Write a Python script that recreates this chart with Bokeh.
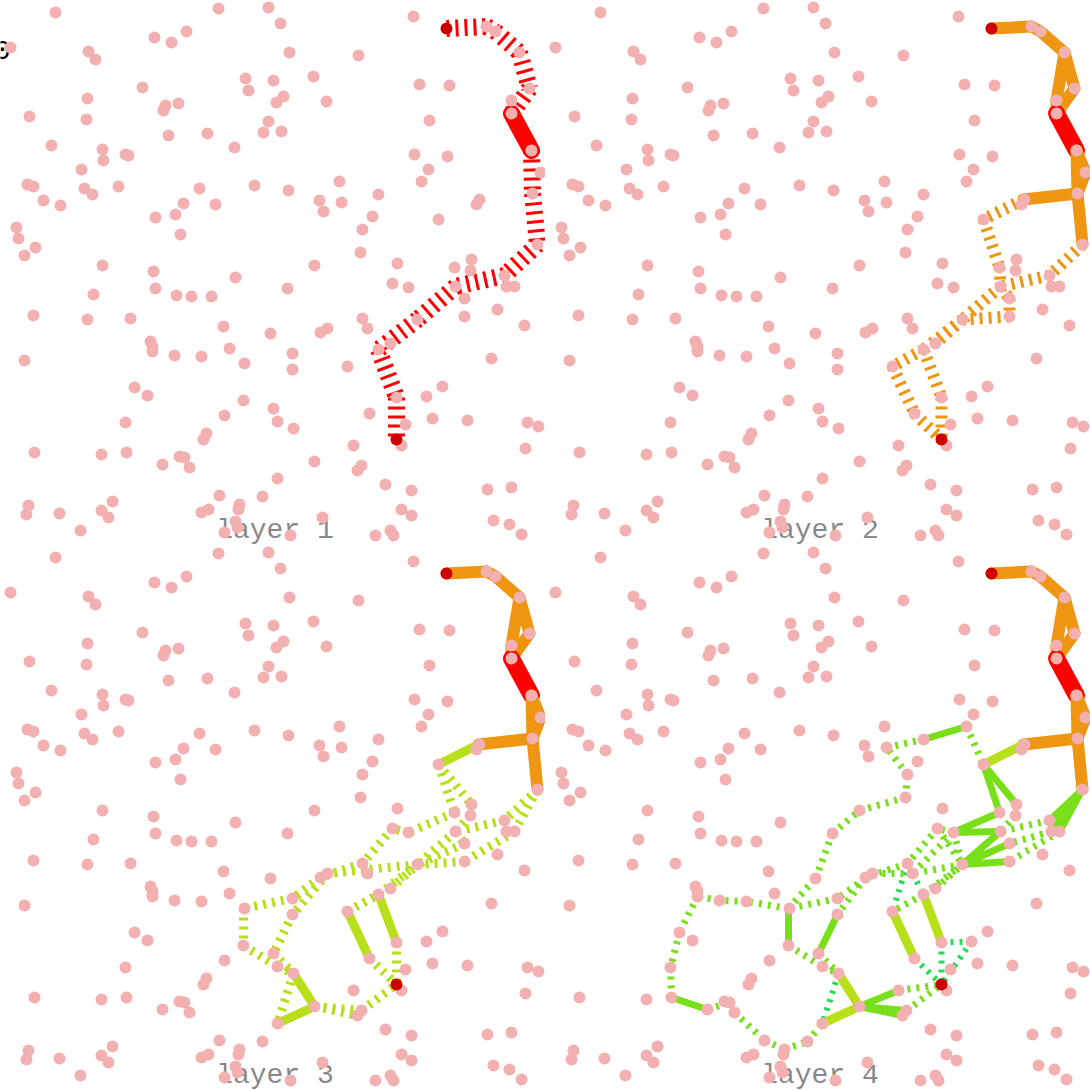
from bokeh.plotting import figure
from bokeh.layouts import column, row
from bokeh.models import Range1d, Label
from bokeh.embed import file_html
from bokeh.resources import INLINE

node_xy = [
 (55,12),(218,8),(268,7),(10,47),(88,51),(95,59),(154,37),(171,42),(186,31),(245,78),(248,90),(273,80),(142,87),
 (87,98),(86,119),(29,116),(178,103),(165,105),(163,110),(276,102),(268,121),(263,132),(168,135),(207,133),(234,147),
 (51,145),(102,149),(103,160),(125,154),(128,155),(81,169),(27,184),(33,186),(43,200),(60,205),(84,188),(92,194),
 (118,186),(199,188),(254,185),(183,203),(175,214),(215,204),(155,217),(180,234),(16,227),(18,238),(35,247),(24,255),
 (102,265),(153,271),(235,277),(280,23),(413,16),(289,52),(358,55),(313,76),(283,96),(326,101),(281,131),(419,84),
 (449,85),(429,120),(414,154),(447,156),(428,169),(421,181),(339,181),(288,190),(378,194),(319,200),(341,202),(323,211),
 (372,216),(362,229),(360,252),(314,265),(397,263),(438,219),(479,199),(476,204),(486,26),(495,31),(519,52),(529,88),
 (511,100),(511,113),(531,150),(540,172),(532,193),(537,244),(471,259),(454,267),(470,270),(504,275),(93,294),(155,288),
 (176,295),(191,296),(211,296),(33,315),(87,319),(130,318),(223,326),(270,333),(150,341),(152,346),(152,351),(174,355),
 (201,356),(229,348),(244,363),(24,360),(134,387),(147,395),(243,400),(273,408),(224,415),(125,422),(277,421),(206,433),
 (203,439),(34,452),(101,454),(126,452),(179,456),(184,457),(189,467),(162,464),(277,478),(219,495),(262,496),(28,505),
 (26,514),(59,513),(112,501),(101,510),(108,517),(80,530),(201,512),(208,509),(239,504),(238,509),(235,521),(237,527),
 (224,532),(287,288),(392,283),(408,287),(455,286),(464,298),(464,316),(497,309),(524,325),(506,286),(514,286),(362,318),
 (367,328),(327,328),(320,332),(417,319),(390,343),(378,349),(292,353),(292,369),(347,366),(491,358),(442,386),(426,396),
 (396,397),(369,413),(405,424),(432,418),(467,420),(527,422),(538,426),(401,445),(525,448),(293,428),(353,445),(314,461),
 (361,465),(357,470),(385,484),(411,490),(487,489),(511,487),(401,509),(411,515),(322,517),(493,520),(509,524),(521,534),
 (375,535),(390,530),(393,535),(290,535),
]
terminal_xy = [(446,28),(396,439)]

red_solid = [(511,113,531,150)]
red_dash = [(446,28,486,26),(486,26,495,31),(495,31,519,52),(519,52,529,88),(529,88,511,113),(531,150,532,193),
 (532,193,537,244),(537,244,504,275),(504,275,455,286),(455,286,417,319),(417,319,378,349),(378,349,396,397),(396,397,396,439)]

orange_up = [(446,28,486,26),(486,26,495,31),(495,31,519,52),(519,52,511,100),(511,100,511,113),(519,52,529,88),(529,88,511,113)]
orange_down = [(531,150,532,193),(531,150,540,172),(540,172,532,193),(532,193,537,244),(532,193,478,199)]
orange_dash = [(478,199,438,219),(438,219,454,267),(454,267,455,286),(537,244,504,275),(504,275,455,286),(455,286,464,298),
 (464,298,464,316),(464,316,417,319),(455,286,417,319),(417,319,390,343),(417,319,378,349),(378,349,347,366),(347,366,369,413),
 (369,413,396,439),(378,349,396,397),(396,397,396,439)]

yellow_solid = [(478,199,438,219),(347,366,369,413),(378,349,396,397),(293,428,314,461),(314,461,277,478)]
yellow_dash = [(438,219,471,259),(438,219,454,267),(471,259,470,270),(470,270,455,286),(454,267,408,287),(408,287,392,283),
 (392,283,362,318),(362,318,320,332),(417,319,327,328),(320,332,292,353),(327,328,292,369),(292,353,243,363),(292,369,273,408),
 (243,363,243,400),(243,400,277,421),(273,408,293,428),(277,421,293,428),(293,428,277,478),(314,461,357,470),(314,461,361,465),
 (361,465,396,439),(347,366,378,349),(378,349,417,319),(390,343,417,319),(369,413,396,439),(396,397,396,439),(537,244,504,275),
 (537,244,514,286),(504,275,455,286),(514,286,464,316),(464,316,417,319),(455,286,417,319),(464,298,417,319),(455,286,464,298)]

green_solid = [(438,219,471,259),(438,219,454,267),(537,244,504,275),(537,244,514,286),(537,244,506,286),(454,267,408,287),
 (408,287,455,286),(455,286,417,319),(464,298,417,319),(464,316,417,319),(243,363,243,400),(292,369,273,408),(314,461,353,445),
 (314,461,361,465),(314,461,357,470),(126,452,162,464),(378,194,421,181)]
green_dash = [(504,275,455,286),(506,286,464,298),(514,286,464,316),(471,259,470,270),(470,270,455,286),(408,287,417,319),
 (392,283,417,319),(408,287,392,283),(392,283,362,318),(408,287,367,328),(417,319,367,328),(362,318,320,332),(367,328,327,328),
 (327,328,292,353),(320,332,292,369),(292,353,243,363),(243,363,201,356),(201,356,174,355),(174,355,152,351),(152,351,134,387),
 (134,387,125,422),(125,422,126,452),(243,363,270,333),(270,333,287,288),(287,288,314,265),(314,265,360,252),(360,252,362,229),
 (362,229,341,202),(341,202,378,194),(421,181,438,219),(243,400,277,421),(273,408,293,428),(277,421,293,428),(162,464,184,457),
 (184,457,189,467),(189,467,219,495),(219,495,239,504),(239,504,262,496),(262,496,277,478),(353,445,396,439),(361,465,396,439),
 (378,349,347,366),(378,349,417,319),(390,343,417,319)]
teal_dash = [(293,428,277,478),(362,318,347,366),(367,328,378,349),(369,413,396,439),(396,397,396,439),(396,397,426,396),(426,396,396,439)]

layer_labels = ["layer 1","layer 2","layer 3","layer 4"]
RED, ORANGE, YELLOW, GREEN, TEAL = "#ff0000","#ee9512","#b8e01a","#78e01a","#22dd55"
W = {RED:17, ORANGE:12, YELLOW:9, GREEN:7, TEAL:6}

def draw(p, edges, color, dashed):
    xs = [[e[0], e[2]] for e in edges]
    ys = [[e[1], e[3]] for e in edges]
    if dashed:
        p.multi_line(xs, ys, line_color=color, line_width=W[color], line_dash="3 6", line_cap="butt")
    else:
        p.multi_line(xs, ys, line_color=color, line_width=W[color], line_cap="round", line_join="round")

solids = [
    [(red_solid, RED)],
    [(orange_up, ORANGE), (red_solid, RED), (orange_down, ORANGE)],
    [(orange_up, ORANGE), (red_solid, RED), (orange_down, ORANGE), (yellow_solid, YELLOW)],
    [(orange_up, ORANGE), (red_solid, RED), (orange_down, ORANGE), (yellow_solid, YELLOW), (green_solid, GREEN)],
]
dashes = [
    [(red_dash, RED)],
    [(orange_dash, ORANGE)],
    [(yellow_dash, YELLOW)],
    [(teal_dash, TEAL), (green_dash, GREEN)],
]

panels = []
for i in range(4):
    p = figure(width=545, height=545, x_range=Range1d(0,545), y_range=Range1d(545,0),
               output_backend="svg", toolbar_location=None, x_axis_type=None, y_axis_type=None,
               min_border=0, outline_line_color=None, background_fill_color="white", border_fill_color="white")
    p.grid.visible = False
    p.add_layout(Label(x=274.5, y=530, text=layer_labels[i], text_font="Liberation Mono", text_font_size="28px",
                       text_color="#888888", text_align="center", text_baseline="alphabetic", level="underlay"))
    if i == 0:
        p.add_layout(Label(x=2, y=49, text="0", text_font="Liberation Mono", text_font_size="28px",
                           text_color="#000000", text_align="center", text_baseline="alphabetic", level="underlay"))
    for edges, c in dashes[i]:
        draw(p, edges, c, True)
    for edges, c in solids[i]:
        draw(p, edges, c, False)
    p.scatter([n[0] for n in node_xy],[n[1] for n in node_xy],size=12,fill_color="#f3b0b0",line_color=None)
    p.scatter([n[0] for n in terminal_xy],[n[1] for n in terminal_xy],size=12,fill_color="#cc0000",line_color=None)
    panels.append(p)

layout = column(row(panels[0],panels[1],spacing=0),row(panels[2],panels[3],spacing=0),spacing=0)
open("out.html","w").write(file_html(layout, INLINE))
